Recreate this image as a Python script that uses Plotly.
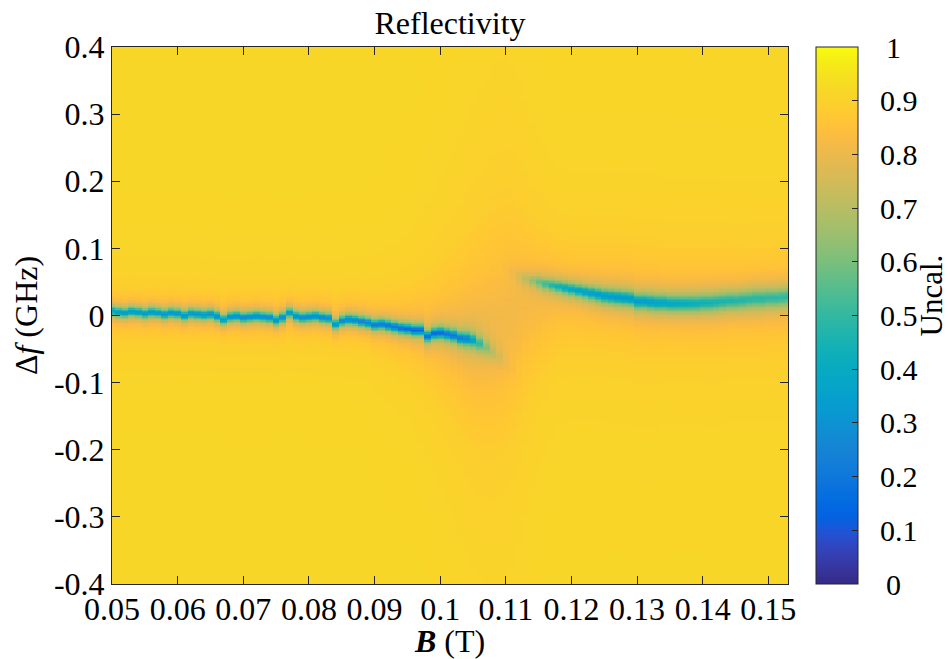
import numpy as np
import plotly.graph_objects as go

# ---- measurement grid -------------------------------------------------------
B_FIELD = np.round(np.arange(0.050, 0.1535, 0.001), 3)      # T, 104 columns
DF = np.round(np.linspace(-0.41, 0.41, 411), 4)              # GHz detuning

BASELINE = 0.915   # off-resonance reflectivity (uncalibrated)

# ---- lower resonance branch, columns 0.050 ... 0.112 T ----------------------
lower_center = [
    0.007, 0.005, 0.004, 0.006, 0.005, 0.003, 0.005, 0.004, 0.002, 0.004,
    0.003, 0.000, 0.003, 0.002, 0.001, 0.002, -0.001, -0.006, -0.002, -0.001,
    -0.003, -0.002, -0.001, -0.002, -0.003, -0.007, -0.003, 0.004, -0.001, -0.003,
    -0.002, -0.001, -0.003, -0.004, -0.013, -0.008, -0.006, -0.007, -0.009, -0.011,
    -0.014, -0.013, -0.015, -0.017, -0.019, -0.020, -0.022, -0.022, -0.031, -0.027,
    -0.026, -0.028, -0.030, -0.034, -0.035, -0.037, -0.042, -0.048, -0.055, -0.062,
    -0.070, -0.078, -0.086,
]
lower_depth = [
    0.53, 0.55, 0.55, 0.56, 0.55, 0.56, 0.57, 0.55, 0.57, 0.57,
    0.57, 0.58, 0.57, 0.58, 0.57, 0.58, 0.59, 0.54, 0.58, 0.59,
    0.60, 0.59, 0.60, 0.59, 0.60, 0.58, 0.60, 0.54, 0.59, 0.60,
    0.60, 0.60, 0.61, 0.60, 0.57, 0.61, 0.62, 0.62, 0.64, 0.64,
    0.65, 0.66, 0.67, 0.68, 0.69, 0.70, 0.72, 0.70, 0.67, 0.69,
    0.67, 0.65, 0.64, 0.62, 0.58, 0.46, 0.32, 0.20, 0.12, 0.07,
    0.03, 0.01, 0.00,
]
lower_width = [0.0065] * 50 + [
    0.0068, 0.0068, 0.007, 0.0072, 0.0078, 0.0085, 0.0095, 0.0105, 0.0115, 0.0125,
    0.013, 0.013, 0.013,
]

# ---- upper resonance branch, columns 0.108 ... 0.153 T ----------------------
upper_center = [
    0.085, 0.076, 0.069, 0.063, 0.058, 0.055, 0.052, 0.050, 0.047, 0.045,
    0.043, 0.041, 0.039, 0.037, 0.035, 0.033, 0.031, 0.029, 0.028, 0.027,
    0.026, 0.025, 0.021, 0.021, 0.020, 0.019, 0.019, 0.018, 0.018, 0.018,
    0.018, 0.018, 0.019, 0.019, 0.020, 0.021, 0.022, 0.022, 0.023, 0.024,
    0.025, 0.025, 0.026, 0.026, 0.027, 0.028,
]
upper_depth = [
    0.00, 0.00, 0.01, 0.03, 0.07, 0.13, 0.20, 0.27, 0.33, 0.38, 0.42, 0.45,
    0.47, 0.49, 0.50, 0.51, 0.52, 0.52, 0.52, 0.53, 0.53, 0.52,
    0.52, 0.51, 0.51, 0.50, 0.49, 0.48, 0.47, 0.46, 0.45, 0.44,
    0.43, 0.42, 0.41, 0.40, 0.40, 0.39, 0.39, 0.38, 0.38, 0.38, 0.37, 0.37, 0.37, 0.37,
]
upper_width = [
    0.014, 0.013, 0.012, 0.011, 0.010, 0.0095, 0.009,
    0.0088, 0.0086, 0.0085, 0.0085, 0.0085, 0.0085, 0.0085, 0.0086, 0.0088, 0.009,
    0.0092, 0.0094, 0.0095, 0.0095, 0.0096, 0.0098, 0.010, 0.0102, 0.0104, 0.0106,
    0.0108, 0.011, 0.0112, 0.0114, 0.0116, 0.0118, 0.012, 0.0122, 0.0124, 0.0126,
    0.0128, 0.013, 0.0132, 0.0134, 0.0135, 0.0135, 0.0135, 0.0135, 0.0135,
]

# ---- broad background absorption around the modes, all 104 columns ----------
halo_center = [0.0] * 40 + [
    -0.010, -0.011, -0.012, -0.013, -0.014, -0.015, -0.016, -0.018, -0.020, -0.022,
    -0.025, -0.027, -0.028, -0.029, -0.030, -0.030, -0.028, -0.024, -0.018, -0.012,
    -0.006, 0.000, 0.005, 0.010, 0.014, 0.018, 0.022, 0.025, 0.027, 0.028,
] + [0.028] * 10 + [0.022] * 10 + [0.020] * 14
halo_depth = [0.03] * 36 + [0.035] * 4 + [
    0.04, 0.04, 0.045, 0.045, 0.05, 0.05, 0.055, 0.06, 0.065, 0.07,
    0.075, 0.08, 0.085, 0.09, 0.095, 0.10, 0.10, 0.10, 0.10, 0.10,
    0.10, 0.10, 0.095, 0.09, 0.085, 0.08, 0.075, 0.07, 0.065, 0.065,
] + [0.06] * 14 + [0.055] * 10 + [0.05] * 10
halo_width = [0.04] * 40 + [
    0.045, 0.045, 0.05, 0.05, 0.055, 0.055, 0.06, 0.065, 0.07, 0.075,
    0.08, 0.085, 0.09, 0.095, 0.10, 0.105, 0.11, 0.115, 0.12, 0.12,
    0.12, 0.115, 0.11, 0.10, 0.09, 0.085, 0.08, 0.075, 0.07, 0.07,
] + [0.07] * 34

LOWER_START = 0.050
UPPER_START = 0.108

# MATLAB parula colormap (64 entries)
PARULA = [
    (0.2081, 0.1663, 0.5292), (0.2116, 0.1898, 0.5777), (0.2123, 0.2138, 0.6270),
    (0.2081, 0.2386, 0.6771), (0.1959, 0.2645, 0.7279), (0.1707, 0.2919, 0.7792),
    (0.1253, 0.3242, 0.8303), (0.0591, 0.3598, 0.8683), (0.0117, 0.3875, 0.8820),
    (0.0060, 0.4086, 0.8828), (0.0165, 0.4266, 0.8786), (0.0329, 0.4430, 0.8720),
    (0.0498, 0.4586, 0.8641), (0.0629, 0.4737, 0.8554), (0.0723, 0.4887, 0.8467),
    (0.0779, 0.5040, 0.8384), (0.0793, 0.5200, 0.8312), (0.0749, 0.5375, 0.8263),
    (0.0641, 0.5570, 0.8240), (0.0488, 0.5772, 0.8228), (0.0343, 0.5966, 0.8199),
    (0.0265, 0.6137, 0.8135), (0.0239, 0.6287, 0.8038), (0.0231, 0.6418, 0.7913),
    (0.0228, 0.6535, 0.7768), (0.0267, 0.6642, 0.7607), (0.0384, 0.6743, 0.7436),
    (0.0590, 0.6838, 0.7254), (0.0843, 0.6928, 0.7062), (0.1133, 0.7015, 0.6859),
    (0.1453, 0.7098, 0.6646), (0.1801, 0.7177, 0.6424), (0.2178, 0.7250, 0.6193),
    (0.2586, 0.7317, 0.5954), (0.3022, 0.7376, 0.5712), (0.3482, 0.7424, 0.5473),
    (0.3953, 0.7459, 0.5244), (0.4420, 0.7481, 0.5033), (0.4871, 0.7491, 0.4840),
    (0.5300, 0.7491, 0.4661), (0.5709, 0.7485, 0.4494), (0.6099, 0.7473, 0.4337),
    (0.6473, 0.7456, 0.4188), (0.6834, 0.7435, 0.4044), (0.7184, 0.7411, 0.3905),
    (0.7525, 0.7384, 0.3768), (0.7858, 0.7356, 0.3633), (0.8185, 0.7327, 0.3498),
    (0.8507, 0.7299, 0.3360), (0.8824, 0.7274, 0.3217), (0.9139, 0.7258, 0.3063),
    (0.9450, 0.7261, 0.2886), (0.9739, 0.7314, 0.2666), (0.9938, 0.7455, 0.2403),
    (0.9990, 0.7653, 0.2164), (0.9955, 0.7861, 0.1967), (0.9880, 0.8066, 0.1794),
    (0.9789, 0.8271, 0.1633), (0.9697, 0.8481, 0.1475), (0.9626, 0.8705, 0.1309),
    (0.9589, 0.8949, 0.1132), (0.9598, 0.9218, 0.0948), (0.9661, 0.9514, 0.0755),
    (0.9763, 0.9831, 0.0538),
]
colorscale = [
    [i / (len(PARULA) - 1), "rgb(%d,%d,%d)" % tuple(round(255 * c) for c in rgb)]
    for i, rgb in enumerate(PARULA)
]

X_TICKS = [0.05, 0.06, 0.07, 0.08, 0.09, 0.10, 0.11, 0.12, 0.13, 0.14, 0.15]
X_LABELS = ["0.05", "0.06", "0.07", "0.08", "0.09", "0.1", "0.11", "0.12", "0.13", "0.14", "0.15"]
Y_TICKS = [0.4, 0.3, 0.2, 0.1, 0.0, -0.1, -0.2, -0.3, -0.4]
Y_LABELS = ["0.4", "0.3", "0.2", "0.1", "0", "-0.1", "-0.2", "-0.3", "-0.4"]
C_TICKS = [0.0, 0.1, 0.2, 0.3, 0.4, 0.5, 0.6, 0.7, 0.8, 0.9, 1.0]
C_LABELS = ["0", "0.1", "0.2", "0.3", "0.4", "0.5", "0.6", "0.7", "0.8", "0.9", "1"]
# colorbar labels are centred in their column: pad with typographic spaces
C_TEXT = [("\u2009\u2002" if len(s) == 1 else "\u2002") + s for s in C_LABELS]
CBAR_LABEL = "Uncal."


def lorentz(f, centre, depth, hwhm):
    return depth / (1.0 + ((f - centre) / hwhm) ** 2)


# ---- build reflectivity map (rows = detuning, columns = field) --------------
refl = np.full((DF.size, B_FIELD.size), BASELINE)
for j, b in enumerate(B_FIELD):
    col = refl[:, j]
    col -= lorentz(DF, halo_center[j], halo_depth[j], halo_width[j])
    k = int(round((b - LOWER_START) / 0.001))
    if 0 <= k < len(lower_center):
        col -= lorentz(DF, lower_center[k], lower_depth[k], lower_width[k])
    k = int(round((b - UPPER_START) / 0.001))
    if 0 <= k < len(upper_center):
        col -= lorentz(DF, upper_center[k], upper_depth[k], upper_width[k])
refl = np.clip(refl, 0.0, 1.0)

AX = "#262626"
FONT = "Liberation Serif"
FS = 32

fig = go.Figure(
    go.Heatmap(
        x=B_FIELD,
        y=DF,
        z=refl,
        zmin=0,
        zmax=1,
        colorscale=colorscale,
        zsmooth=False,
        hoverinfo="skip",
        colorbar=dict(
            x=(816 - 112) / 676,
            xanchor="left",
            xpad=0,
            y=0.5,
            yanchor="middle",
            ypad=0,
            len=1.0,
            lenmode="fraction",
            thickness=42,
            thicknessmode="pixels",
            outlinecolor=AX,
            outlinewidth=1,
            tickmode="array",
            tickvals=C_TICKS,
            ticktext=C_TEXT,
            ticks="inside",
            ticklen=6,
            tickcolor=AX,
            tickfont=dict(family=FONT, size=30, color="black"),
        ),
    )
)

# colorbar label, rotated to read upwards, flush with the right edge
fig.add_annotation(
    text=CBAR_LABEL,
    xref="paper",
    yref="paper",
    x=(949 - 112) / 676,
    y=(584 - 296) / 537,
    xanchor="right",
    yanchor="middle",
    textangle=-90,
    showarrow=False,
    borderpad=0,
    font=dict(family=FONT, size=31, color="black"),
)

fig.update_layout(
    width=950,
    height=659,
    margin=dict(l=112, r=162, t=47, b=75, autoexpand=False),
    paper_bgcolor="white",
    plot_bgcolor="white",
    font=dict(family=FONT, size=FS, color="black"),
    title=dict(
        text="Reflectivity",
        x=0.5,
        xref="paper",
        xanchor="center",
        y=1 - 23 / 659,
        yref="container",
        yanchor="middle",
        font=dict(family=FONT, size=FS, color="black"),
    ),
    xaxis=dict(
        range=[0.05, 0.153],
        tickmode="array",
        tickvals=X_TICKS,
        ticktext=X_LABELS,
        ticks="inside",
        ticklen=8,
        tickcolor=AX,
        ticklabelstandoff=-3,
        showline=True,
        linecolor=AX,
        linewidth=1,
        mirror="ticks",
        showgrid=False,
        zeroline=False,
        tickfont=dict(family=FONT, size=FS, color="black"),
        title=dict(text="<b><i>B</i></b> (T)", font=dict(family=FONT, size=FS, color="black"), standoff=9),
    ),
    yaxis=dict(
        range=[-0.4, 0.4],
        tickmode="array",
        tickvals=Y_TICKS,
        ticktext=Y_LABELS,
        ticks="inside",
        ticklen=8,
        tickcolor=AX,
        showline=True,
        linecolor=AX,
        linewidth=1,
        mirror="ticks",
        showgrid=False,
        zeroline=False,
        tickfont=dict(family=FONT, size=FS, color="black"),
        title=dict(text="Δ<i>f</i> (GHz)", font=dict(family=FONT, size=FS, color="black"), standoff=6),
    ),
)

fig.write_html("out.html")
